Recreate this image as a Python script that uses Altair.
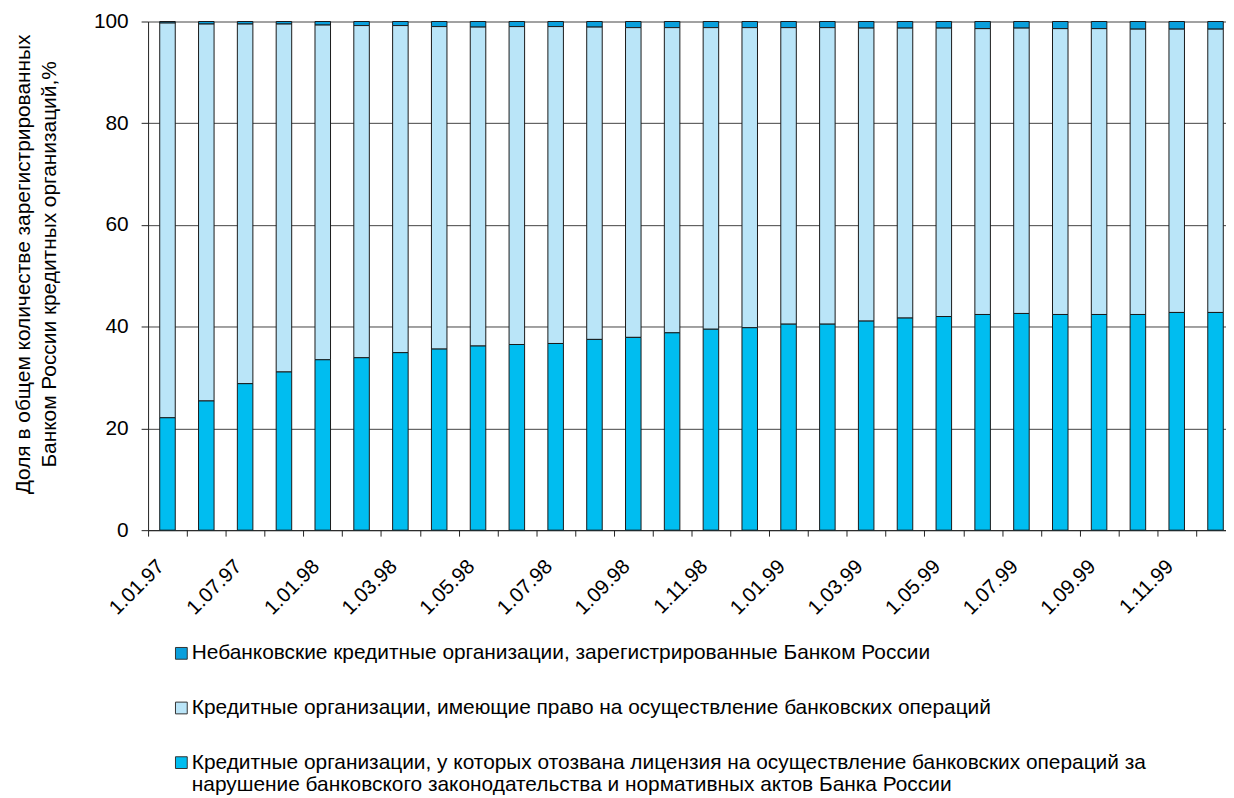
import altair as alt
import pandas as pd

# categories (reporting dates)
dates = ["1.01.97", "1.04.97", "1.07.97", "1.10.97",
         "1.01.98", "1.02.98", "1.03.98", "1.04.98", "1.05.98", "1.06.98",
         "1.07.98", "1.08.98", "1.09.98", "1.10.98", "1.11.98", "1.12.98",
         "1.01.99", "1.02.99", "1.03.99", "1.04.99", "1.05.99", "1.06.99",
         "1.07.99", "1.08.99", "1.09.99", "1.10.99", "1.11.99", "1.12.99"]
shown_labels = ["1.01.97", "1.07.97", "1.01.98", "1.03.98", "1.05.98", "1.07.98",
                "1.09.98", "1.11.98", "1.01.99", "1.03.99", "1.05.99", "1.07.99",
                "1.09.99", "1.11.99"]

# shares, %
revoked = [22.1, 25.4, 28.8, 31.1, 33.5, 33.9, 34.9, 35.6, 36.2, 36.5, 36.7, 37.5,
           37.9, 38.8, 39.5, 39.8, 40.5, 40.5, 41.1, 41.7, 42.0, 42.4, 42.6, 42.4,
           42.4, 42.4, 42.8, 42.8]
licensed = [77.6, 74.1, 70.7, 68.4, 65.8, 65.3, 64.3, 63.4, 62.7, 62.5, 62.3, 61.4,
            60.9, 60.0, 59.3, 59.0, 58.3, 58.3, 57.6, 57.0, 56.7, 56.2, 56.1, 56.2,
            56.2, 56.1, 55.7, 55.7]
nonbank = [0.3, 0.5, 0.5, 0.5, 0.7, 0.8, 0.8, 1.0, 1.1, 1.0, 1.0, 1.1,
           1.2, 1.2, 1.2, 1.2, 1.2, 1.2, 1.3, 1.3, 1.3, 1.4, 1.3, 1.4,
           1.4, 1.5, 1.5, 1.5]

series_names = [
    "Небанковские кредитные организации, зарегистрированные Банком России",
    "Кредитные организации, имеющие право на осуществление банковских операций",
    "Кредитные организации, у которых отозвана лицензия на осуществление банковских операций за нарушение банковского законодательства и нормативных актов Банка России",
]
series_colors = ["#0a9fdc", "#bae5f8", "#00bdf0"]
stack_pos = [2, 1, 0]

y_title = ["Доля в общем количестве зарегистрированных",
           "Банком России кредитных организаций,%"]

rows = []
for i, d in enumerate(dates):
    for name, vals, o in zip(series_names, [nonbank, licensed, revoked], stack_pos):
        rows.append({"date": d, "series": name, "value": vals[i], "pos": o})
df = pd.DataFrame(rows)

FONT = "Liberation Sans"
RANGE_W = 1094
step = RANGE_W / len(dates)
shown_js = "[" + ",".join("'" + s + "'" for s in shown_labels) + "]"

chart = alt.Chart(df).mark_bar(stroke="#1a1a1a", strokeWidth=1).encode(
    x=alt.X("date:N", sort=dates, title=None,
            scale=alt.Scale(range=[0, RANGE_W], paddingInner=0.6, paddingOuter=0.3),
            axis=alt.Axis(labelAngle=-45, labelAlign="right", labelBaseline="middle",
                          tickOffset=-step / 2, labelOffset=step / 2 - 7,
                          tickSize=6, labelPadding=27, tickColor="#222",
                          domainColor="#222", labelColor="black", labelFontSize=20.5,
                          labelFont=FONT, labelOverlap=False,
                          labelExpr="indexof(" + shown_js + ", datum.value) >= 0 ? datum.label : ''")),
    y=alt.Y("value:Q", stack="zero",
            scale=alt.Scale(domain=[0, 100], nice=False),
            title=y_title,
            axis=alt.Axis(values=[0, 20, 40, 60, 80, 100], grid=True, gridColor="#444",
                          gridWidth=1, tickSize=7, tickColor="#222", domainColor="#222",
                          labelPadding=13, labelColor="black", labelFontSize=21,
                          labelFont=FONT, titleFont=FONT, titleFontSize=21,
                          titleFontWeight="normal", titleColor="black",
                          titleLineHeight=26, titlePadding=34, titleY=244)),
    color=alt.Color("series:N",
                    scale=alt.Scale(domain=series_names, range=series_colors),
                    legend=alt.Legend(title=None, orient="none", legendX=23, legendY=625.5,
                                      direction="vertical", symbolType="square",
                                      symbolSize=140, symbolStrokeColor="#333",
                                      symbolStrokeWidth=1, symbolOpacity=1,
                                      labelFont=FONT, labelFontSize=21, labelColor="black",
                                      labelLimit=1100, rowPadding=33, labelOffset=0,
                                      padding=0,
                                      labelExpr="split(replace(datum.label, 'операций за ', 'операций за|'), '|')")),
    order=alt.Order("pos:Q", sort="ascending"),
).properties(
    width=1085,
    height=512,
    autosize=alt.AutoSizeParams(type="none"),
    padding={"left": 141, "top": 11, "right": 0, "bottom": 267},
).configure(
    font=FONT,
    background="white",
).configure_view(stroke=None)

chart.save("out.html", embed_options={"renderer": "svg", "actions": False})
